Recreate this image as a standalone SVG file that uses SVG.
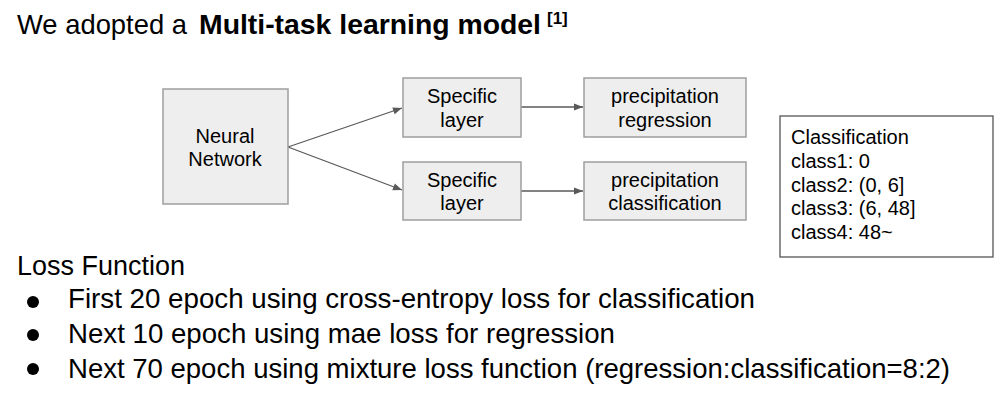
<svg xmlns="http://www.w3.org/2000/svg" width="1002" height="393" viewBox="0 0 1002 393">
<defs>
<marker id="ah" viewBox="0 0 10 10" refX="10" refY="5" markerWidth="10" markerHeight="9" markerUnits="userSpaceOnUse" orient="auto"><path d="M0,1 L10,5 L0,9 z" fill="#595959"/></marker>
<style>
.t{font-family:"Liberation Sans",Arial,sans-serif;fill:#000}
.box{fill:#eeeeee;stroke:#9e9e9e;stroke-width:1.5}
.n{font-size:20px;text-anchor:middle}
.lg{font-size:20px}
.c{stroke:#595959;stroke-width:1.3;fill:none;marker-end:url(#ah)}
.big{font-size:28px}
</style>
</defs>
<rect width="1002" height="393" fill="#fff"/>
<text class="t" x="17" y="34" style="font-size:28px" textLength="170" lengthAdjust="spacingAndGlyphs">We adopted a</text>
<text class="t" x="199" y="34" style="font-size:28px;font-weight:bold" textLength="342" lengthAdjust="spacingAndGlyphs">Multi-task learning model</text>
<text class="t" x="547" y="24" style="font-size:17px;font-weight:bold">[1]</text>
<g id="connectors">
<line class="c" x1="288" y1="147" x2="402" y2="108"/>
<line class="c" x1="288" y1="147" x2="402" y2="190"/>
<line class="c" x1="521" y1="107" x2="583" y2="107"/>
<line class="c" x1="521" y1="191" x2="583" y2="191"/>
</g>
<g id="nn"><rect class="box" x="163" y="89" width="125" height="115"/><text class="t n" x="225" y="143">Neural</text><text class="t n" x="225" y="166">Network</text></g>
<g id="spec1"><rect class="box" x="403" y="78" width="118" height="59"/><text class="t n" x="462" y="103">Specific</text><text class="t n" x="462" y="127">layer</text></g>
<g id="spec2"><rect class="box" x="403" y="162" width="118" height="58"/><text class="t n" x="462" y="187">Specific</text><text class="t n" x="462" y="210">layer</text></g>
<g id="reg"><rect class="box" x="584" y="78" width="162" height="59"/><text class="t n" x="665" y="103">precipitation</text><text class="t n" x="665" y="127">regression</text></g>
<g id="cls"><rect class="box" x="584" y="162" width="162" height="58"/><text class="t n" x="665" y="187">precipitation</text><text class="t n" x="665" y="210">classification</text></g>
<g id="legend"><rect x="780" y="116" width="213" height="141" fill="#fff" stroke="#555" stroke-width="1.3"/>
<text class="t lg" x="791" y="144">Classification</text>
<text class="t lg" x="791" y="168">class1: 0</text>
<text class="t lg" x="791" y="192">class2: (0, 6]</text>
<text class="t lg" x="791" y="215">class3: (6, 48]</text>
<text class="t lg" x="791" y="239">class4: 48~</text>
</g>
<text class="t" style="font-size:27px" x="17" y="275" textLength="168" lengthAdjust="spacingAndGlyphs">Loss Function</text>
<circle cx="33" cy="302" r="6"/>
<circle cx="33" cy="335" r="6"/>
<circle cx="33" cy="369" r="6"/>
<text class="t big" x="68" y="308" textLength="687" lengthAdjust="spacingAndGlyphs">First 20 epoch using cross-entropy loss for classification</text>
<text class="t big" x="68" y="343" textLength="547" lengthAdjust="spacingAndGlyphs">Next 10 epoch using mae loss for regression</text>
<text class="t big" x="68" y="378" textLength="882" lengthAdjust="spacingAndGlyphs">Next 70 epoch using mixture loss function (regression:classification=8:2)</text>
</svg>
